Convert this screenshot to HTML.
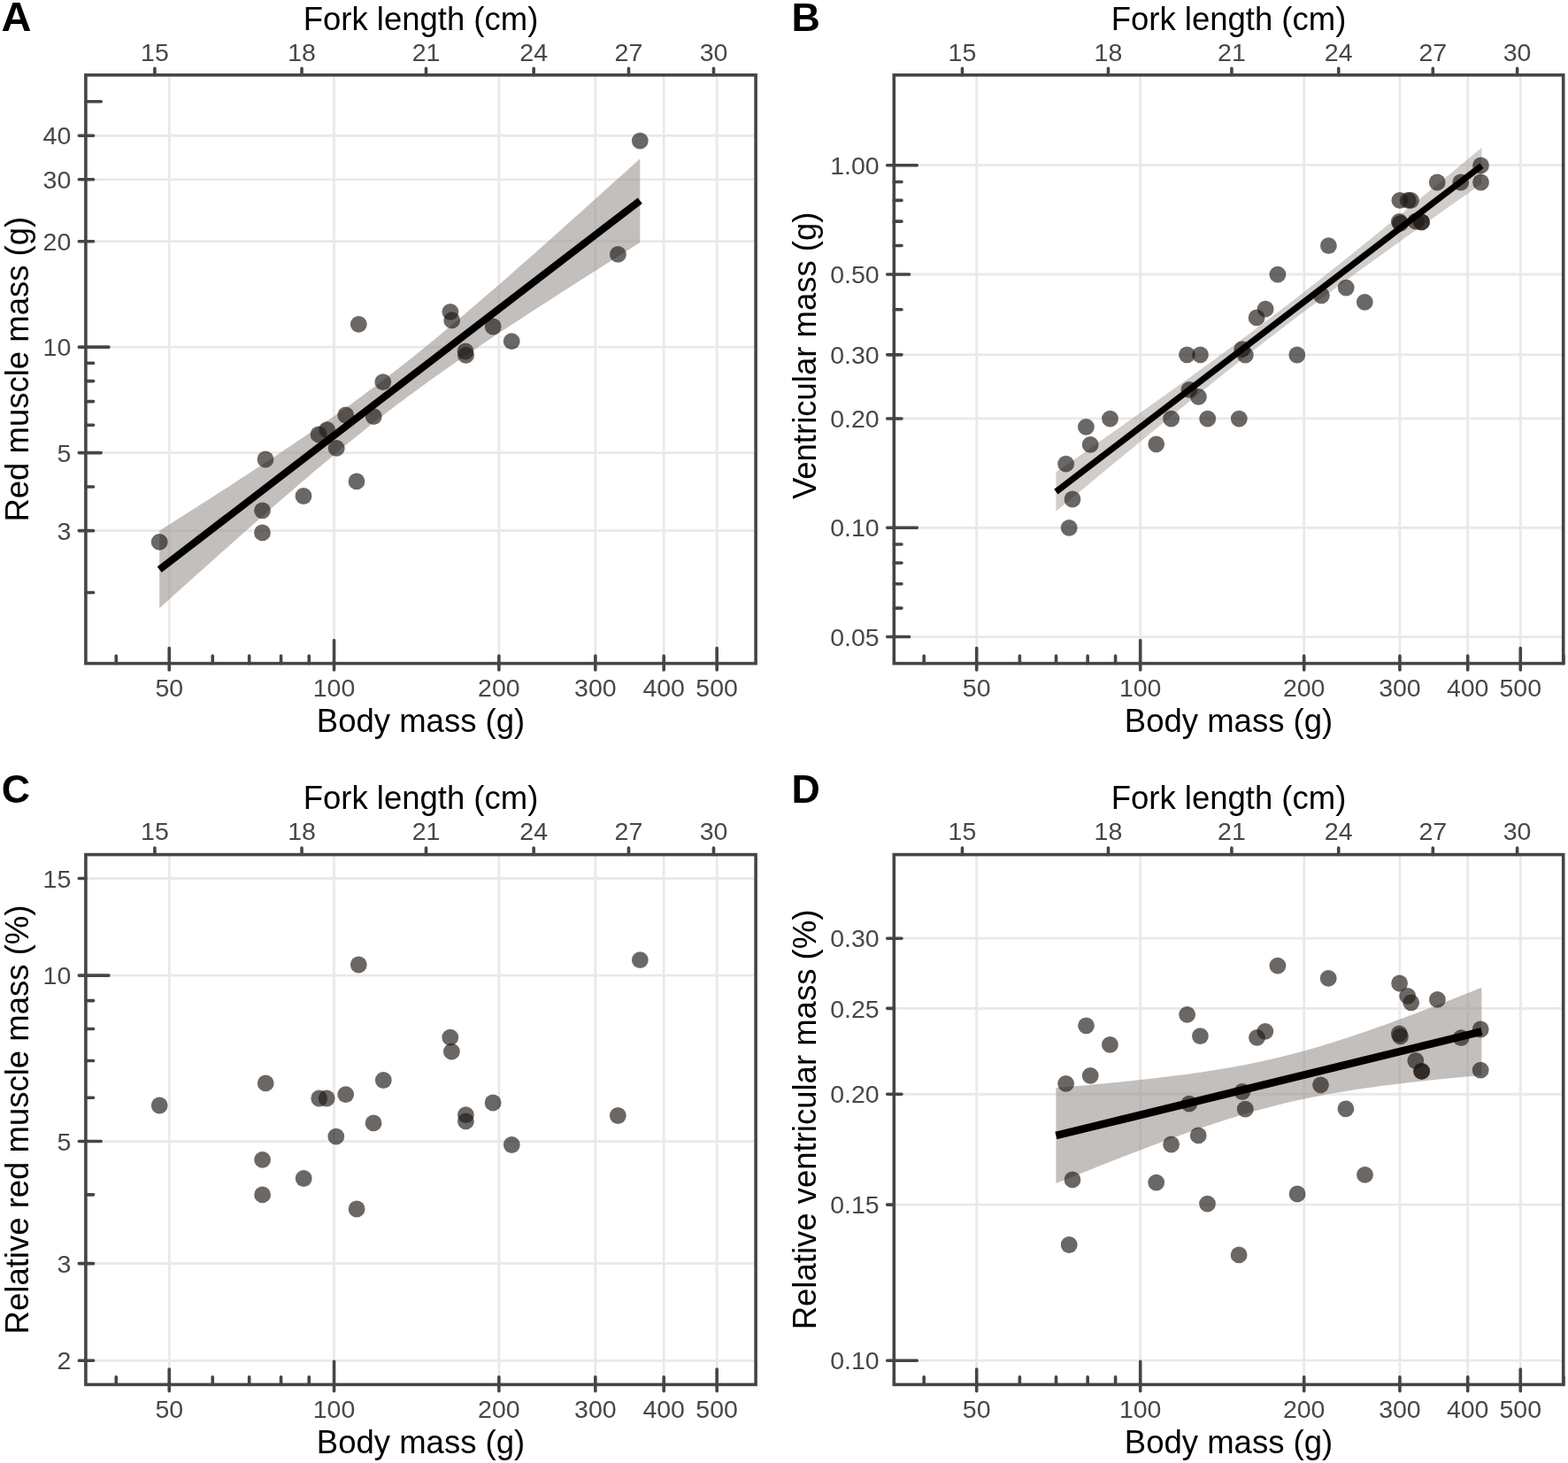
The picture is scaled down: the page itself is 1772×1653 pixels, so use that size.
<!DOCTYPE html><html><head><meta charset="utf-8"><title>Figure</title><style>html,body{margin:0;padding:0;background:#fff;overflow:hidden}svg{display:block}</style></head><body>
<svg width="1772" height="1653" viewBox="0 0 1772 1653" font-family="Liberation Sans, Arial, Helvetica, sans-serif">
<rect width="1772" height="1653" fill="#fff"/>
<g id="panelA">
<clipPath id="clipA"><rect x="96.9" y="84.8" width="757.2" height="664.8"/></clipPath>
<path d="M191.24 84.8V749.6M377.55 84.8V749.6M563.86 84.8V749.6M672.84 84.8V749.6M750.17 84.8V749.6M810.15 84.8V749.6M96.9 599.63H854.1M96.9 511.6H854.1M96.9 392.14H854.1M96.9 272.69H854.1M96.9 202.81H854.1M96.9 153.23H854.1" stroke="#e9e9e9" stroke-width="2.8" fill="none"/>
<g clip-path="url(#clipA)">
<polygon points="180.2,599.65 187.07,595.3 193.95,590.94 200.82,586.57 207.7,582.2 214.57,577.83 221.45,573.44 228.32,569.05 235.2,564.65 242.07,560.25 248.95,555.83 255.82,551.4 262.7,546.96 269.57,542.51 276.45,538.05 283.32,533.57 290.19,529.08 297.07,524.58 303.94,520.05 310.82,515.51 317.69,510.95 324.57,506.36 331.44,501.76 338.32,497.12 345.19,492.46 352.07,487.77 358.94,483.05 365.82,478.3 372.69,473.51 379.57,468.68 386.44,463.81 393.32,458.89 400.19,453.93 407.06,448.92 413.94,443.86 420.81,438.75 427.69,433.59 434.56,428.37 441.44,423.1 448.31,417.77 455.19,412.39 462.06,406.96 468.94,401.47 475.81,395.94 482.69,390.36 489.56,384.73 496.44,379.05 503.31,373.34 510.18,367.59 517.06,361.79 523.93,355.97 530.81,350.11 537.68,344.22 544.56,338.31 551.43,332.37 558.31,326.41 565.18,320.42 572.06,314.41 578.93,308.39 585.81,302.35 592.68,296.29 599.56,290.21 606.43,284.13 613.31,278.03 620.18,271.91 627.05,265.79 633.93,259.66 640.8,253.52 647.68,247.37 654.55,241.21 661.43,235.04 668.3,228.87 675.18,222.69 682.05,216.5 688.93,210.31 695.8,204.11 702.68,197.91 709.55,191.7 716.43,185.49 723.3,179.27 723.3,274.01 716.43,278.34 709.55,282.68 702.68,287.03 695.8,291.37 688.93,295.73 682.05,300.09 675.18,304.45 668.3,308.82 661.43,313.2 654.55,317.59 647.68,321.98 640.8,326.38 633.93,330.79 627.05,335.21 620.18,339.64 613.31,344.08 606.43,348.53 599.56,352.99 592.68,357.47 585.81,361.96 578.93,366.47 572.06,371 565.18,375.54 558.31,380.11 551.43,384.7 544.56,389.31 537.68,393.95 530.81,398.61 523.93,403.3 517.06,408.03 510.18,412.79 503.31,417.59 496.44,422.42 489.56,427.3 482.69,432.23 475.81,437.19 468.94,442.21 462.06,447.28 455.19,452.4 448.31,457.57 441.44,462.79 434.56,468.07 427.69,473.41 420.81,478.8 413.94,484.24 407.06,489.73 400.19,495.27 393.32,500.86 386.44,506.5 379.57,512.18 372.69,517.9 365.82,523.66 358.94,529.46 352.07,535.29 345.19,541.15 338.32,547.04 331.44,552.96 324.57,558.9 317.69,564.87 310.82,570.86 303.94,576.87 297.07,582.9 290.19,588.94 283.32,595 276.45,601.08 269.57,607.17 262.7,613.27 255.82,619.38 248.95,625.51 242.07,631.64 235.2,637.79 228.32,643.94 221.45,650.1 214.57,656.27 207.7,662.44 200.82,668.62 193.95,674.81 187.07,681 180.2,687.2" fill="#9b958f" fill-opacity="0.6"/>
<circle cx="180.2" cy="612.4" r="9.4" fill="#201a15" fill-opacity="0.664"/>
<circle cx="296.5" cy="576.8" r="9.4" fill="#201a15" fill-opacity="0.664"/>
<circle cx="296.5" cy="601.9" r="9.4" fill="#201a15" fill-opacity="0.664"/>
<circle cx="300" cy="519" r="9.4" fill="#201a15" fill-opacity="0.664"/>
<circle cx="343" cy="560.5" r="9.4" fill="#201a15" fill-opacity="0.664"/>
<circle cx="360" cy="490.9" r="9.4" fill="#201a15" fill-opacity="0.664"/>
<circle cx="369.6" cy="485.6" r="9.4" fill="#201a15" fill-opacity="0.664"/>
<circle cx="380.2" cy="506.3" r="9.4" fill="#201a15" fill-opacity="0.664"/>
<circle cx="390.7" cy="469" r="9.4" fill="#201a15" fill-opacity="0.664"/>
<circle cx="403" cy="543.9" r="9.4" fill="#201a15" fill-opacity="0.664"/>
<circle cx="405.3" cy="366.3" r="9.4" fill="#201a15" fill-opacity="0.664"/>
<circle cx="422.3" cy="470.7" r="9.4" fill="#201a15" fill-opacity="0.664"/>
<circle cx="432.8" cy="431.6" r="9.4" fill="#201a15" fill-opacity="0.664"/>
<circle cx="508.9" cy="352.3" r="9.4" fill="#201a15" fill-opacity="0.664"/>
<circle cx="510.7" cy="361.9" r="9.4" fill="#201a15" fill-opacity="0.664"/>
<circle cx="526" cy="397" r="9.4" fill="#201a15" fill-opacity="0.664"/>
<circle cx="526.5" cy="401.4" r="9.4" fill="#201a15" fill-opacity="0.664"/>
<circle cx="557.2" cy="369" r="9.4" fill="#201a15" fill-opacity="0.664"/>
<circle cx="578.2" cy="385.6" r="9.4" fill="#201a15" fill-opacity="0.664"/>
<circle cx="698.4" cy="287.4" r="9.4" fill="#201a15" fill-opacity="0.664"/>
<circle cx="723.3" cy="159.1" r="9.4" fill="#201a15" fill-opacity="0.664"/>
<line x1="180.2" y1="643.43" x2="723.3" y2="226.64" stroke="#000" stroke-width="8.2"/>
</g>
<path d="M96.9 669.51H105.57M96.9 599.63H105.57M96.9 550.06H105.57M96.9 511.6H114.2M96.9 480.18H105.57M96.9 453.61H105.57M96.9 430.6H105.57M96.9 410.3H105.57M96.9 392.14H122.9M96.9 272.69H105.57M96.9 202.81H105.57M131.26 749.6V740.93M96.9 153.23H105.57M191.24 749.6V732.3M96.9 114.77H114.2M240.25 749.6V740.93M281.68 749.6V740.93M317.57 749.6V740.93M349.23 749.6V740.93M377.55 749.6V723.6M563.86 749.6V740.93M672.84 749.6V740.93M750.17 749.6V740.93M810.15 749.6V732.3M191.24 749.6V757M377.55 749.6V757M563.86 749.6V757M672.84 749.6V757M750.17 749.6V757M810.15 749.6V757M96.9 599.63H89.3M96.9 511.6H89.3M96.9 392.14H89.3M96.9 272.69H89.3M96.9 202.81H89.3M96.9 153.23H89.3M174.89 84.8V77.2M341.02 84.8V77.2M481.48 84.8V77.2M603.15 84.8V77.2M710.47 84.8V77.2M806.48 84.8V77.2" stroke="#454545" stroke-width="3.6" stroke-linecap="round" fill="none"/>
<rect x="96.9" y="84.8" width="757.2" height="664.8" fill="none" stroke="#454545" stroke-width="3.6"/>
<g font-size="28.5" fill="#474747"><text x="80.3" y="609.84" text-anchor="end">3</text><text x="80.3" y="521.8" text-anchor="end">5</text><text x="80.3" y="402.35" text-anchor="end">10</text><text x="80.3" y="282.89" text-anchor="end">20</text><text x="80.3" y="213.01" text-anchor="end">30</text><text x="80.3" y="163.43" text-anchor="end">40</text><text x="191.24" y="787.2" text-anchor="middle">50</text><text x="377.55" y="787.2" text-anchor="middle">100</text><text x="563.86" y="787.2" text-anchor="middle">200</text><text x="672.84" y="787.2" text-anchor="middle">300</text><text x="750.17" y="787.2" text-anchor="middle">400</text><text x="810.15" y="787.2" text-anchor="middle">500</text><text x="174.89" y="68.5" text-anchor="middle">15</text><text x="341.02" y="68.5" text-anchor="middle">18</text><text x="481.48" y="68.5" text-anchor="middle">21</text><text x="603.15" y="68.5" text-anchor="middle">24</text><text x="710.47" y="68.5" text-anchor="middle">27</text><text x="806.48" y="68.5" text-anchor="middle">30</text></g>
<g font-size="36.5" fill="#000">
<text x="475.5" y="33.5" text-anchor="middle">Fork length (cm)</text>
<text x="475.5" y="827.3" text-anchor="middle">Body mass (g)</text>
<text transform="translate(32.3 417.2) rotate(-90)" text-anchor="middle">Red muscle mass (g)</text>
</g>
<text x="1.6" y="35" font-size="47" font-weight="bold" fill="#000">A</text>
</g>
<g id="panelB">
<clipPath id="clipB"><rect x="1010.3" y="84.8" width="756.4" height="664.8"/></clipPath>
<path d="M1103.7 84.8V749.6M1288.7 84.8V749.6M1473.7 84.8V749.6M1581.92 84.8V749.6M1658.7 84.8V749.6M1718.26 84.8V749.6M1010.3 719.54H1766.7M1010.3 596.26H1766.7M1010.3 472.97H1766.7M1010.3 400.85H1766.7M1010.3 309.99H1766.7M1010.3 186.7H1766.7" stroke="#e9e9e9" stroke-width="2.8" fill="none"/>
<g clip-path="url(#clipB)">
<polygon points="1193.4,533.5 1199.49,529.23 1205.58,524.97 1211.67,520.7 1217.75,516.43 1223.84,512.15 1229.93,507.87 1236.02,503.59 1242.11,499.31 1248.2,495.02 1254.29,490.72 1260.37,486.43 1266.46,482.13 1272.55,477.82 1278.64,473.51 1284.73,469.19 1290.82,464.87 1296.91,460.54 1302.99,456.21 1309.08,451.87 1315.17,447.52 1321.26,443.16 1327.35,438.8 1333.44,434.43 1339.53,430.04 1345.62,425.65 1351.7,421.25 1357.79,416.83 1363.88,412.41 1369.97,407.97 1376.06,403.52 1382.15,399.05 1388.24,394.57 1394.32,390.08 1400.41,385.57 1406.5,381.04 1412.59,376.49 1418.68,371.93 1424.77,367.35 1430.86,362.75 1436.94,358.13 1443.03,353.49 1449.12,348.84 1455.21,344.16 1461.3,339.46 1467.39,334.75 1473.48,330.01 1479.56,325.26 1485.65,320.49 1491.74,315.71 1497.83,310.9 1503.92,306.08 1510.01,301.24 1516.1,296.39 1522.18,291.53 1528.27,286.65 1534.36,281.75 1540.45,276.85 1546.54,271.93 1552.63,267.01 1558.72,262.07 1564.81,257.12 1570.89,252.17 1576.98,247.2 1583.07,242.23 1589.16,237.25 1595.25,232.26 1601.34,227.27 1607.43,222.27 1613.51,217.26 1619.6,212.25 1625.69,207.23 1631.78,202.21 1637.87,197.18 1643.96,192.15 1650.05,187.12 1656.13,182.08 1662.22,177.04 1668.31,171.99 1674.4,166.94 1674.4,207.58 1668.31,211.85 1662.22,216.13 1656.13,220.42 1650.05,224.7 1643.96,228.99 1637.87,233.29 1631.78,237.59 1625.69,241.89 1619.6,246.2 1613.51,250.52 1607.43,254.84 1601.34,259.16 1595.25,263.49 1589.16,267.83 1583.07,272.18 1576.98,276.53 1570.89,280.89 1564.81,285.26 1558.72,289.64 1552.63,294.03 1546.54,298.43 1540.45,302.84 1534.36,307.26 1528.27,311.69 1522.18,316.14 1516.1,320.6 1510.01,325.07 1503.92,329.56 1497.83,334.07 1491.74,338.59 1485.65,343.13 1479.56,347.68 1473.48,352.26 1467.39,356.85 1461.3,361.46 1455.21,366.09 1449.12,370.74 1443.03,375.41 1436.94,380.1 1430.86,384.81 1424.77,389.53 1418.68,394.28 1412.59,399.04 1406.5,403.82 1400.41,408.62 1394.32,413.43 1388.24,418.26 1382.15,423.11 1376.06,427.97 1369.97,432.84 1363.88,437.73 1357.79,442.63 1351.7,447.54 1345.62,452.47 1339.53,457.4 1333.44,462.34 1327.35,467.3 1321.26,472.26 1315.17,477.23 1309.08,482.2 1302.99,487.19 1296.91,492.18 1290.82,497.18 1284.73,502.18 1278.64,507.19 1272.55,512.21 1266.46,517.23 1260.37,522.25 1254.29,527.28 1248.2,532.32 1242.11,537.35 1236.02,542.39 1229.93,547.44 1223.84,552.49 1217.75,557.54 1211.67,562.59 1205.58,567.65 1199.49,572.71 1193.4,577.77" fill="#9b958f" fill-opacity="0.47"/>
<circle cx="1204.6" cy="524.2" r="9.4" fill="#201a15" fill-opacity="0.664"/>
<circle cx="1208.2" cy="596.4" r="9.4" fill="#201a15" fill-opacity="0.664"/>
<circle cx="1212" cy="564" r="9.4" fill="#201a15" fill-opacity="0.664"/>
<circle cx="1227.4" cy="482.3" r="9.4" fill="#201a15" fill-opacity="0.664"/>
<circle cx="1232.2" cy="502.4" r="9.4" fill="#201a15" fill-opacity="0.664"/>
<circle cx="1254.5" cy="473.1" r="9.4" fill="#201a15" fill-opacity="0.664"/>
<circle cx="1306.7" cy="501.8" r="9.4" fill="#201a15" fill-opacity="0.664"/>
<circle cx="1323.6" cy="473.2" r="9.4" fill="#201a15" fill-opacity="0.664"/>
<circle cx="1341.4" cy="400.8" r="9.4" fill="#201a15" fill-opacity="0.664"/>
<circle cx="1356.5" cy="400.8" r="9.4" fill="#201a15" fill-opacity="0.664"/>
<circle cx="1343.9" cy="440.3" r="9.4" fill="#201a15" fill-opacity="0.664"/>
<circle cx="1354.4" cy="448.3" r="9.4" fill="#201a15" fill-opacity="0.664"/>
<circle cx="1364.7" cy="473.2" r="9.4" fill="#201a15" fill-opacity="0.664"/>
<circle cx="1400.3" cy="473.2" r="9.4" fill="#201a15" fill-opacity="0.664"/>
<circle cx="1403.7" cy="394.6" r="9.4" fill="#201a15" fill-opacity="0.664"/>
<circle cx="1407.3" cy="401.2" r="9.4" fill="#201a15" fill-opacity="0.664"/>
<circle cx="1420.1" cy="358.9" r="9.4" fill="#201a15" fill-opacity="0.664"/>
<circle cx="1430.1" cy="349.2" r="9.4" fill="#201a15" fill-opacity="0.664"/>
<circle cx="1443.9" cy="310.1" r="9.4" fill="#201a15" fill-opacity="0.664"/>
<circle cx="1465.8" cy="401" r="9.4" fill="#201a15" fill-opacity="0.664"/>
<circle cx="1493.4" cy="333.8" r="9.4" fill="#201a15" fill-opacity="0.664"/>
<circle cx="1501.4" cy="277.7" r="9.4" fill="#201a15" fill-opacity="0.664"/>
<circle cx="1521.2" cy="325.1" r="9.4" fill="#201a15" fill-opacity="0.664"/>
<circle cx="1542.3" cy="341.3" r="9.4" fill="#201a15" fill-opacity="0.664"/>
<circle cx="1581.9" cy="226.3" r="9.4" fill="#201a15" fill-opacity="0.664"/>
<circle cx="1591.2" cy="226.3" r="9.4" fill="#201a15" fill-opacity="0.664"/>
<circle cx="1594.4" cy="226.3" r="9.4" fill="#201a15" fill-opacity="0.664"/>
<circle cx="1581.3" cy="250.3" r="9.4" fill="#201a15" fill-opacity="0.664"/>
<circle cx="1582.5" cy="252.3" r="9.4" fill="#201a15" fill-opacity="0.664"/>
<circle cx="1600" cy="250" r="9.4" fill="#201a15" fill-opacity="0.664"/>
<circle cx="1606.5" cy="250.8" r="9.4" fill="#201a15" fill-opacity="0.664"/>
<circle cx="1606.5" cy="250.8" r="9.4" fill="#201a15" fill-opacity="0.664"/>
<circle cx="1624.2" cy="206" r="9.4" fill="#201a15" fill-opacity="0.664"/>
<circle cx="1650.8" cy="206" r="9.4" fill="#201a15" fill-opacity="0.664"/>
<circle cx="1673.5" cy="206" r="9.4" fill="#201a15" fill-opacity="0.664"/>
<circle cx="1673.5" cy="186.9" r="9.4" fill="#201a15" fill-opacity="0.664"/>
<line x1="1193.4" y1="555.63" x2="1674.4" y2="187.26" stroke="#000" stroke-width="7.2"/>
</g>
<path d="M1010.3 719.54H1027.6M1010.3 687.11H1018.97M1010.3 659.7H1018.97M1010.3 635.95H1018.97M1010.3 615H1018.97M1010.3 596.26H1036.3M1010.3 472.97H1018.97M1010.3 400.85H1018.97M1010.3 349.68H1018.97M1010.3 309.99H1027.6M1010.3 277.56H1018.97M1010.3 250.14H1018.97M1010.3 226.39H1018.97M1010.3 205.44H1018.97M1010.3 186.7H1036.3M1044.15 749.6V740.93M1103.7 749.6V732.3M1152.36 749.6V740.93M1193.51 749.6V740.93M1229.15 749.6V740.93M1260.58 749.6V740.93M1288.7 749.6V723.6M1473.7 749.6V740.93M1581.92 749.6V740.93M1658.7 749.6V740.93M1718.26 749.6V732.3M1766.92 749.6V740.93M1103.7 749.6V757M1288.7 749.6V757M1473.7 749.6V757M1581.92 749.6V757M1658.7 749.6V757M1718.26 749.6V757M1010.3 719.54H1002.7M1010.3 596.26H1002.7M1010.3 472.97H1002.7M1010.3 400.85H1002.7M1010.3 309.99H1002.7M1010.3 186.7H1002.7M1087.47 84.8V77.2M1252.43 84.8V77.2M1391.9 84.8V77.2M1512.72 84.8V77.2M1619.29 84.8V77.2M1714.62 84.8V77.2" stroke="#454545" stroke-width="3.6" stroke-linecap="round" fill="none"/>
<rect x="1010.3" y="84.8" width="756.4" height="664.8" fill="none" stroke="#454545" stroke-width="3.6"/>
<g font-size="28.5" fill="#474747"><text x="993.7" y="729.75" text-anchor="end">0.05</text><text x="993.7" y="606.46" text-anchor="end">0.10</text><text x="993.7" y="483.17" text-anchor="end">0.20</text><text x="993.7" y="411.05" text-anchor="end">0.30</text><text x="993.7" y="320.19" text-anchor="end">0.50</text><text x="993.7" y="196.9" text-anchor="end">1.00</text><text x="1103.7" y="787.2" text-anchor="middle">50</text><text x="1288.7" y="787.2" text-anchor="middle">100</text><text x="1473.7" y="787.2" text-anchor="middle">200</text><text x="1581.92" y="787.2" text-anchor="middle">300</text><text x="1658.7" y="787.2" text-anchor="middle">400</text><text x="1718.26" y="787.2" text-anchor="middle">500</text><text x="1087.47" y="68.5" text-anchor="middle">15</text><text x="1252.43" y="68.5" text-anchor="middle">18</text><text x="1391.9" y="68.5" text-anchor="middle">21</text><text x="1512.72" y="68.5" text-anchor="middle">24</text><text x="1619.29" y="68.5" text-anchor="middle">27</text><text x="1714.62" y="68.5" text-anchor="middle">30</text></g>
<g font-size="36.5" fill="#000">
<text x="1388.5" y="33.5" text-anchor="middle">Fork length (cm)</text>
<text x="1388.5" y="827.3" text-anchor="middle">Body mass (g)</text>
<text transform="translate(922.3 401.8) rotate(-90)" text-anchor="middle">Ventricular mass (g)</text>
</g>
<text x="894.5" y="35.1" font-size="44.7" font-weight="bold" fill="#000">B</text>
</g>
<g id="panelC">
<clipPath id="clipC"><rect x="96.9" y="965.6" width="757.2" height="598.8"/></clipPath>
<path d="M191.24 965.6V1564.4M377.55 965.6V1564.4M563.86 965.6V1564.4M672.84 965.6V1564.4M750.17 965.6V1564.4M810.15 965.6V1564.4M96.9 1537.28H854.1M96.9 1427.65H854.1M96.9 1289.54H854.1M96.9 1102.13H854.1M96.9 992.5H854.1" stroke="#e9e9e9" stroke-width="2.8" fill="none"/>
<g clip-path="url(#clipC)">
<circle cx="180.2" cy="1249" r="9.4" fill="#201a15" fill-opacity="0.664"/>
<circle cx="296.6" cy="1310.4" r="9.4" fill="#201a15" fill-opacity="0.664"/>
<circle cx="296.6" cy="1349.9" r="9.4" fill="#201a15" fill-opacity="0.664"/>
<circle cx="300.2" cy="1223.9" r="9.4" fill="#201a15" fill-opacity="0.664"/>
<circle cx="343.2" cy="1331.5" r="9.4" fill="#201a15" fill-opacity="0.664"/>
<circle cx="360.7" cy="1241" r="9.4" fill="#201a15" fill-opacity="0.664"/>
<circle cx="369.2" cy="1241" r="9.4" fill="#201a15" fill-opacity="0.664"/>
<circle cx="379.8" cy="1284.1" r="9.4" fill="#201a15" fill-opacity="0.664"/>
<circle cx="390.7" cy="1236.6" r="9.4" fill="#201a15" fill-opacity="0.664"/>
<circle cx="403.1" cy="1366" r="9.4" fill="#201a15" fill-opacity="0.664"/>
<circle cx="405.3" cy="1090" r="9.4" fill="#201a15" fill-opacity="0.664"/>
<circle cx="422.1" cy="1268.9" r="9.4" fill="#201a15" fill-opacity="0.664"/>
<circle cx="433.3" cy="1220.5" r="9.4" fill="#201a15" fill-opacity="0.664"/>
<circle cx="508.8" cy="1172.1" r="9.4" fill="#201a15" fill-opacity="0.664"/>
<circle cx="510.4" cy="1188.2" r="9.4" fill="#201a15" fill-opacity="0.664"/>
<circle cx="526.4" cy="1259.7" r="9.4" fill="#201a15" fill-opacity="0.664"/>
<circle cx="526.4" cy="1266.8" r="9.4" fill="#201a15" fill-opacity="0.664"/>
<circle cx="557.1" cy="1246" r="9.4" fill="#201a15" fill-opacity="0.664"/>
<circle cx="578.3" cy="1293.5" r="9.4" fill="#201a15" fill-opacity="0.664"/>
<circle cx="698.3" cy="1260.5" r="9.4" fill="#201a15" fill-opacity="0.664"/>
<circle cx="723.3" cy="1084.7" r="9.4" fill="#201a15" fill-opacity="0.664"/>
</g>
<path d="M96.9 1537.28H105.57M96.9 1427.65H105.57M96.9 1349.87H105.57M96.9 1289.54H114.2M96.9 1240.24H105.57M96.9 1198.56H105.57M96.9 1162.46H105.57M96.9 1130.61H105.57M96.9 1102.13H122.9M131.26 1564.4V1555.73M191.24 1564.4V1547.1M240.25 1564.4V1555.73M281.68 1564.4V1555.73M317.57 1564.4V1555.73M349.23 1564.4V1555.73M377.55 1564.4V1538.4M563.86 1564.4V1555.73M672.84 1564.4V1555.73M750.17 1564.4V1555.73M810.15 1564.4V1547.1M191.24 1564.4V1571.8M377.55 1564.4V1571.8M563.86 1564.4V1571.8M672.84 1564.4V1571.8M750.17 1564.4V1571.8M810.15 1564.4V1571.8M96.9 1537.28H89.3M96.9 1427.65H89.3M96.9 1289.54H89.3M96.9 1102.13H89.3M96.9 992.5H89.3M174.89 965.6V958M341.02 965.6V958M481.48 965.6V958M603.15 965.6V958M710.47 965.6V958M806.48 965.6V958" stroke="#454545" stroke-width="3.6" stroke-linecap="round" fill="none"/>
<rect x="96.9" y="965.6" width="757.2" height="598.8" fill="none" stroke="#454545" stroke-width="3.6"/>
<g font-size="28.5" fill="#474747"><text x="80.3" y="1547.48" text-anchor="end">2</text><text x="80.3" y="1437.86" text-anchor="end">3</text><text x="80.3" y="1299.74" text-anchor="end">5</text><text x="80.3" y="1112.33" text-anchor="end">10</text><text x="80.3" y="1002.7" text-anchor="end">15</text><text x="191.24" y="1602" text-anchor="middle">50</text><text x="377.55" y="1602" text-anchor="middle">100</text><text x="563.86" y="1602" text-anchor="middle">200</text><text x="672.84" y="1602" text-anchor="middle">300</text><text x="750.17" y="1602" text-anchor="middle">400</text><text x="810.15" y="1602" text-anchor="middle">500</text><text x="174.89" y="949.3" text-anchor="middle">15</text><text x="341.02" y="949.3" text-anchor="middle">18</text><text x="481.48" y="949.3" text-anchor="middle">21</text><text x="603.15" y="949.3" text-anchor="middle">24</text><text x="710.47" y="949.3" text-anchor="middle">27</text><text x="806.48" y="949.3" text-anchor="middle">30</text></g>
<g font-size="36.5" fill="#000">
<text x="475.5" y="914.3" text-anchor="middle">Fork length (cm)</text>
<text x="475.5" y="1642.1" text-anchor="middle">Body mass (g)</text>
<text transform="translate(32.3 1265) rotate(-90)" text-anchor="middle">Relative red muscle mass (%)</text>
</g>
<text x="1.8" y="906.9" font-size="44.7" font-weight="bold" fill="#000">C</text>
</g>
<g id="panelD">
<clipPath id="clipD"><rect x="1010.3" y="965.6" width="756.4" height="598.8"/></clipPath>
<path d="M1103.7 965.6V1564.4M1288.7 965.6V1564.4M1473.7 965.6V1564.4M1581.92 965.6V1564.4M1658.7 965.6V1564.4M1718.26 965.6V1564.4M1010.3 1537.2H1766.7M1010.3 1361.14H1766.7M1010.3 1236.23H1766.7M1010.3 1139.35H1766.7M1010.3 1060.18H1766.7" stroke="#e9e9e9" stroke-width="2.8" fill="none"/>
<g clip-path="url(#clipD)">
<polygon points="1193.4,1229.12 1199.49,1228.6 1205.58,1228.08 1211.67,1227.55 1217.75,1227.01 1223.84,1226.47 1229.93,1225.91 1236.02,1225.35 1242.11,1224.79 1248.2,1224.21 1254.29,1223.62 1260.37,1223.03 1266.46,1222.42 1272.55,1221.8 1278.64,1221.17 1284.73,1220.53 1290.82,1219.87 1296.91,1219.19 1302.99,1218.51 1309.08,1217.8 1315.17,1217.08 1321.26,1216.34 1327.35,1215.58 1333.44,1214.79 1339.53,1213.99 1345.62,1213.16 1351.7,1212.3 1357.79,1211.42 1363.88,1210.51 1369.97,1209.56 1376.06,1208.59 1382.15,1207.58 1388.24,1206.54 1394.32,1205.45 1400.41,1204.33 1406.5,1203.17 1412.59,1201.97 1418.68,1200.72 1424.77,1199.43 1430.86,1198.1 1436.94,1196.72 1443.03,1195.29 1449.12,1193.81 1455.21,1192.29 1461.3,1190.72 1467.39,1189.1 1473.48,1187.44 1479.56,1185.73 1485.65,1183.98 1491.74,1182.19 1497.83,1180.35 1503.92,1178.48 1510.01,1176.57 1516.1,1174.62 1522.18,1172.63 1528.27,1170.61 1534.36,1168.56 1540.45,1166.48 1546.54,1164.38 1552.63,1162.24 1558.72,1160.08 1564.81,1157.9 1570.89,1155.7 1576.98,1153.47 1583.07,1151.22 1589.16,1148.96 1595.25,1146.68 1601.34,1144.38 1607.43,1142.07 1613.51,1139.74 1619.6,1137.4 1625.69,1135.05 1631.78,1132.68 1637.87,1130.31 1643.96,1127.92 1650.05,1125.52 1656.13,1123.12 1662.22,1120.7 1668.31,1118.28 1674.4,1115.85 1674.4,1214.95 1668.31,1215.5 1662.22,1216.06 1656.13,1216.62 1650.05,1217.19 1643.96,1217.78 1637.87,1218.37 1631.78,1218.97 1625.69,1219.59 1619.6,1220.21 1613.51,1220.85 1607.43,1221.5 1601.34,1222.17 1595.25,1222.85 1589.16,1223.55 1583.07,1224.27 1576.98,1225 1570.89,1225.75 1564.81,1226.53 1558.72,1227.32 1552.63,1228.14 1546.54,1228.99 1540.45,1229.86 1534.36,1230.76 1528.27,1231.69 1522.18,1232.65 1516.1,1233.65 1510.01,1234.68 1503.92,1235.74 1497.83,1236.85 1491.74,1237.99 1485.65,1239.18 1479.56,1240.41 1473.48,1241.68 1467.39,1243 1461.3,1244.36 1455.21,1245.77 1449.12,1247.23 1443.03,1248.73 1436.94,1250.28 1430.86,1251.88 1424.77,1253.52 1418.68,1255.21 1412.59,1256.94 1406.5,1258.72 1400.41,1260.54 1394.32,1262.4 1388.24,1264.3 1382.15,1266.23 1376.06,1268.2 1369.97,1270.21 1363.88,1272.24 1357.79,1274.31 1351.7,1276.41 1345.62,1278.53 1339.53,1280.68 1333.44,1282.85 1327.35,1285.05 1321.26,1287.27 1315.17,1289.51 1309.08,1291.76 1302.99,1294.04 1296.91,1296.33 1290.82,1298.63 1284.73,1300.96 1278.64,1303.29 1272.55,1305.64 1266.46,1308 1260.37,1310.37 1254.29,1312.76 1248.2,1315.15 1242.11,1317.55 1236.02,1319.96 1229.93,1322.38 1223.84,1324.81 1217.75,1327.25 1211.67,1329.69 1205.58,1332.14 1199.49,1334.59 1193.4,1337.06" fill="#9b958f" fill-opacity="0.6"/>
<circle cx="1204.6" cy="1224.3" r="9.4" fill="#201a15" fill-opacity="0.664"/>
<circle cx="1208.2" cy="1406.5" r="9.4" fill="#201a15" fill-opacity="0.664"/>
<circle cx="1212" cy="1332.9" r="9.4" fill="#201a15" fill-opacity="0.664"/>
<circle cx="1227.5" cy="1158.8" r="9.4" fill="#201a15" fill-opacity="0.664"/>
<circle cx="1232.2" cy="1215.3" r="9.4" fill="#201a15" fill-opacity="0.664"/>
<circle cx="1254.4" cy="1180.4" r="9.4" fill="#201a15" fill-opacity="0.664"/>
<circle cx="1306.7" cy="1336.1" r="9.4" fill="#201a15" fill-opacity="0.664"/>
<circle cx="1323.6" cy="1293" r="9.4" fill="#201a15" fill-opacity="0.664"/>
<circle cx="1341.6" cy="1146.3" r="9.4" fill="#201a15" fill-opacity="0.664"/>
<circle cx="1356.4" cy="1170.7" r="9.4" fill="#201a15" fill-opacity="0.664"/>
<circle cx="1343.8" cy="1247.2" r="9.4" fill="#201a15" fill-opacity="0.664"/>
<circle cx="1354.2" cy="1282.9" r="9.4" fill="#201a15" fill-opacity="0.664"/>
<circle cx="1364.5" cy="1360.1" r="9.4" fill="#201a15" fill-opacity="0.664"/>
<circle cx="1400.1" cy="1417.9" r="9.4" fill="#201a15" fill-opacity="0.664"/>
<circle cx="1403.9" cy="1233.5" r="9.4" fill="#201a15" fill-opacity="0.664"/>
<circle cx="1407.3" cy="1253.2" r="9.4" fill="#201a15" fill-opacity="0.664"/>
<circle cx="1420.5" cy="1172.3" r="9.4" fill="#201a15" fill-opacity="0.664"/>
<circle cx="1429.8" cy="1165.3" r="9.4" fill="#201a15" fill-opacity="0.664"/>
<circle cx="1443.9" cy="1091.1" r="9.4" fill="#201a15" fill-opacity="0.664"/>
<circle cx="1466.1" cy="1349" r="9.4" fill="#201a15" fill-opacity="0.664"/>
<circle cx="1492.5" cy="1225.8" r="9.4" fill="#201a15" fill-opacity="0.664"/>
<circle cx="1501.2" cy="1105.4" r="9.4" fill="#201a15" fill-opacity="0.664"/>
<circle cx="1520.9" cy="1252.8" r="9.4" fill="#201a15" fill-opacity="0.664"/>
<circle cx="1542.5" cy="1327.4" r="9.4" fill="#201a15" fill-opacity="0.664"/>
<circle cx="1581.6" cy="1111" r="9.4" fill="#201a15" fill-opacity="0.664"/>
<circle cx="1590.7" cy="1125.4" r="9.4" fill="#201a15" fill-opacity="0.664"/>
<circle cx="1594.7" cy="1132.8" r="9.4" fill="#201a15" fill-opacity="0.664"/>
<circle cx="1581.2" cy="1168" r="9.4" fill="#201a15" fill-opacity="0.664"/>
<circle cx="1582.5" cy="1170.9" r="9.4" fill="#201a15" fill-opacity="0.664"/>
<circle cx="1599.8" cy="1198.5" r="9.4" fill="#201a15" fill-opacity="0.664"/>
<circle cx="1606.6" cy="1210.3" r="9.4" fill="#201a15" fill-opacity="0.664"/>
<circle cx="1606.6" cy="1210.3" r="9.4" fill="#201a15" fill-opacity="0.664"/>
<circle cx="1624.4" cy="1129.4" r="9.4" fill="#201a15" fill-opacity="0.664"/>
<circle cx="1651.2" cy="1172.6" r="9.4" fill="#201a15" fill-opacity="0.664"/>
<circle cx="1673.2" cy="1209.1" r="9.4" fill="#201a15" fill-opacity="0.664"/>
<circle cx="1673.2" cy="1163" r="9.4" fill="#201a15" fill-opacity="0.664"/>
<line x1="1193.4" y1="1283.09" x2="1674.4" y2="1165.4" stroke="#000" stroke-width="8.8"/>
</g>
<path d="M1010.3 1537.2H1036.3M1010.3 1236.23H1018.97M1010.3 1060.18H1018.97M1044.15 1564.4V1555.73M1103.7 1564.4V1547.1M1152.36 1564.4V1555.73M1193.51 1564.4V1555.73M1229.15 1564.4V1555.73M1260.58 1564.4V1555.73M1288.7 1564.4V1538.4M1473.7 1564.4V1555.73M1581.92 1564.4V1555.73M1658.7 1564.4V1555.73M1718.26 1564.4V1547.1M1766.92 1564.4V1555.73M1103.7 1564.4V1571.8M1288.7 1564.4V1571.8M1473.7 1564.4V1571.8M1581.92 1564.4V1571.8M1658.7 1564.4V1571.8M1718.26 1564.4V1571.8M1010.3 1537.2H1002.7M1010.3 1361.14H1002.7M1010.3 1236.23H1002.7M1010.3 1139.35H1002.7M1010.3 1060.18H1002.7M1087.47 965.6V958M1252.43 965.6V958M1391.9 965.6V958M1512.72 965.6V958M1619.29 965.6V958M1714.62 965.6V958" stroke="#454545" stroke-width="3.6" stroke-linecap="round" fill="none"/>
<rect x="1010.3" y="965.6" width="756.4" height="598.8" fill="none" stroke="#454545" stroke-width="3.6"/>
<g font-size="28.5" fill="#474747"><text x="993.7" y="1547.4" text-anchor="end">0.10</text><text x="993.7" y="1371.35" text-anchor="end">0.15</text><text x="993.7" y="1246.44" text-anchor="end">0.20</text><text x="993.7" y="1149.55" text-anchor="end">0.25</text><text x="993.7" y="1070.39" text-anchor="end">0.30</text><text x="1103.7" y="1602" text-anchor="middle">50</text><text x="1288.7" y="1602" text-anchor="middle">100</text><text x="1473.7" y="1602" text-anchor="middle">200</text><text x="1581.92" y="1602" text-anchor="middle">300</text><text x="1658.7" y="1602" text-anchor="middle">400</text><text x="1718.26" y="1602" text-anchor="middle">500</text><text x="1087.47" y="949.3" text-anchor="middle">15</text><text x="1252.43" y="949.3" text-anchor="middle">18</text><text x="1391.9" y="949.3" text-anchor="middle">21</text><text x="1512.72" y="949.3" text-anchor="middle">24</text><text x="1619.29" y="949.3" text-anchor="middle">27</text><text x="1714.62" y="949.3" text-anchor="middle">30</text></g>
<g font-size="36.5" fill="#000">
<text x="1388.5" y="914.3" text-anchor="middle">Fork length (cm)</text>
<text x="1388.5" y="1642.1" text-anchor="middle">Body mass (g)</text>
<text transform="translate(922.3 1265) rotate(-90)" text-anchor="middle">Relative ventricular mass (%)</text>
</g>
<text x="894.5" y="906.8" font-size="44.7" font-weight="bold" fill="#000">D</text>
</g>
</svg></body></html>
